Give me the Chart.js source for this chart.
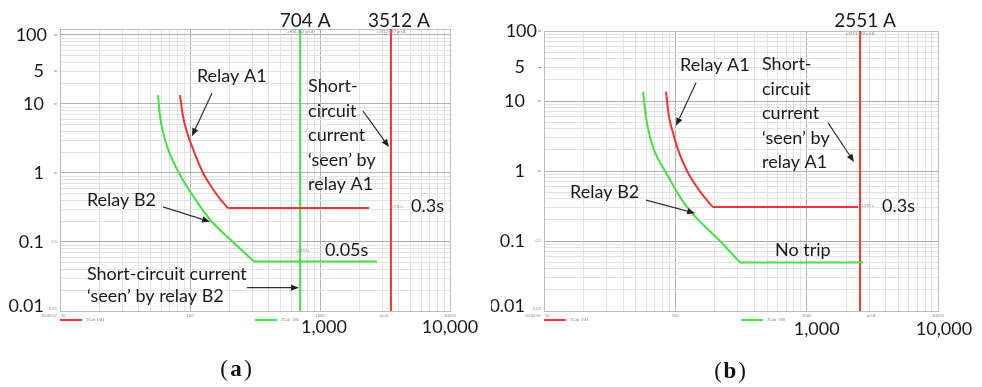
<!DOCTYPE html>
<html>
<head>
<meta charset="utf-8">
<script src="https://cdn.jsdelivr.net/npm/chart.js@4.4.0/dist/chart.umd.min.js"></script>
<style>
  html, body { margin: 0; padding: 0; background: #fff; }
  #wrap { position: relative; width: 982px; height: 387px; }
  .panel { position: absolute; top: 0; width: 491px; height: 387px; }
</style>
</head>
<body>
<div id="wrap">
  <div class="panel" style="left:0"><canvas id="chartA" width="491" height="387"></canvas></div>
  <div class="panel" style="left:491px"><canvas id="chartB" width="491" height="387"></canvas></div>
</div>
<script>
// ---- data (current in A, time in s) ----
const relayA1_a_I = [83.8, 88.3, 94.8, 105.5, 126, 150, 170, 196, 2381];
const relayA1_a_t = [13.4, 6.65, 3.91, 2.22, 1, 0.587, 0.421, 0.31, 0.31];
const relayB2_a_I = [56.7, 58.8, 62, 67.7, 82.3, 109.3, 145.1, 214, 310, 2742];
const relayB2_a_t = [13.4, 6.65, 3.91, 2.22, 1, 0.421, 0.203, 0.1, 0.052, 0.052];
const scCurrent_a = [704, 3512];   // seen by B2, seen by A1

const relayA1_b_I = [84.9, 89.5, 96, 104.9, 122.8, 151.5, 174, 193.6, 2460];
const relayA1_b_t = [13.6, 5.95, 3.51, 2.0, 1, 0.534, 0.384, 0.305, 0.305];
const relayB2_b_I = [56.8, 59.8, 63.0, 68.8, 83.5, 112.5, 134.1, 218.9, 311, 2692];
const relayB2_b_t = [13.6, 5.95, 3.51, 2.0, 1, 0.384, 0.25, 0.1, 0.0495, 0.0495];
const scCurrent_b = [2551];        // seen by A1

// index where the smooth inverse-time part ends and straight segments begin
const relayA1_bend = 7;
const relayB2_bend = 7;

const xDecades = [10, 100, 1000, 10000];
const yDecades = [0.01, 0.1, 1, 10, 100];
const yTickValues = [100, 30, 10, 1, 0.1, 0.01];
const yTickLabels = ['100', '5', '10', '1', '0.1', '0.01'];
const xTickValues = [1000, 10000];
const xTickLabels = ['1,000', '10,000'];

const RED = '#ee3535';
const GREEN = '#44e044';
const FONT = 'Lato, "Open Sans", sans-serif';

function logGrid(decades) {
  const vals = [];
  decades.forEach((d, i) => {
    if (i === decades.length - 1) { vals.push(d); return; }
    for (let k = 1; k < 10; k++) vals.push(+(d * k).toPrecision(3));
  });
  return vals;
}
const isDecade = v => Math.abs(Math.log10(v) - Math.round(Math.log10(v))) < 1e-6;
const gridColor = c => (c.tick && isDecade(c.tick.value)) ? '#b0b0b0' : '#e3e3e3';

function drawArrow(ctx, x1, y1, x2, y2) {
  const ang = Math.atan2(y2 - y1, x2 - x1), L = 8, W = 3.2;
  const bx = x2 - L * Math.cos(ang), by = y2 - L * Math.sin(ang);
  ctx.beginPath(); ctx.moveTo(x1, y1); ctx.lineTo(bx, by); ctx.stroke();
  ctx.beginPath();
  ctx.moveTo(x2, y2);
  ctx.lineTo(bx + W * Math.sin(ang), by - W * Math.cos(ang));
  ctx.lineTo(bx - W * Math.sin(ang), by + W * Math.cos(ang));
  ctx.closePath(); ctx.fill();
}

function decor(p) {
  return {
    id: 'decor',
    beforeDatasetsDraw(chart) {
      const a = chart.chartArea, ctx = chart.ctx;
      ctx.save();
      ctx.strokeStyle = '#bdbdbd'; ctx.lineWidth = 1;
      ctx.strokeRect(a.left + 0.5, a.top + 0.5, a.right - a.left, a.bottom - a.top);
      ctx.restore();
    },
    afterDraw(chart) {
      const ctx = chart.ctx, a = chart.chartArea;
      const sx = chart.scales.x, sy = chart.scales.y;
      const X = v => sx.getPixelForValue(v), Y = v => sy.getPixelForValue(v);
      ctx.save();

      // big y labels
      ctx.fillStyle = '#1a1a1a';
      ctx.font = '18px ' + FONT;
      ctx.textAlign = 'right'; ctx.textBaseline = 'middle';
      yTickValues.forEach((v, i) => {
        let y = Y(v);
        if (v === 0.01) y -= 5;
        const xr = a.left - p.yLabelGap + (v === 100 ? p.topLabelShift : 0);
        ctx.fillText(yTickLabels[i], xr, y);
      });
      // big x labels
      ctx.textAlign = 'center';
      xTickValues.forEach((v, i) => ctx.fillText(xTickLabels[i], X(v) + p.xLabelDx[i], a.bottom + p.xLabelDy));

      // tiny labels of the original software
      ctx.fillStyle = '#8a8a8a'; ctx.strokeStyle = '#c8c8c8';
      ctx.font = '4px ' + FONT;
      ctx.textAlign = 'center'; ctx.textBaseline = 'middle';
      xDecades.forEach(v => ctx.fillText(String(v), X(v) + (v === 10 ? 3 : 0), a.bottom + 5));
      ctx.fillText('pri.A', X(3100), a.bottom + 5);
      ctx.textAlign = 'right';
      ctx.fillText('20.00 kV', a.left - 3, a.bottom + 5);
      ctx.fillText('0.01', a.left - 3, a.bottom - 2);
      ctx.fillText('0.1', a.left - 3, Y(0.1));
      yTickValues.forEach(v => { if (v >= 1) { ctx.fillRect(a.left - 6, Y(v) - 0.5, 3, 1); } });
      ctx.textAlign = 'center';
      p.sc.forEach(s => ctx.fillText(s.tiny, X(s.I), a.top + 3));
      p.tinyInside.forEach(s => ctx.fillText(s.text, X(s.I), Y(s.t)));

      // legend samples
      ctx.lineWidth = 2;
      const lx = [a.left, (a.left + a.right) / 2];
      p.legend.forEach((l, i) => {
        ctx.strokeStyle = l.color;
        ctx.beginPath(); ctx.moveTo(lx[i], a.bottom + 9); ctx.lineTo(lx[i] + 22, a.bottom + 9); ctx.stroke();
        ctx.textAlign = 'left';
        ctx.fillText(l.text, lx[i] + 26, a.bottom + 9);
      });

      // short-circuit current labels above the plot
      ctx.fillStyle = '#1a1a1a';
      ctx.font = '19px ' + FONT;
      ctx.textAlign = 'center'; ctx.textBaseline = 'middle';
      p.sc.forEach(s => ctx.fillText(s.label, X(s.I) + s.dx, 21));

      // annotation text
      ctx.font = '18px ' + FONT;
      ctx.textAlign = 'left';
      p.texts.forEach(tx => {
        tx.lines.forEach((line, k) => ctx.fillText(line, X(tx.I), Y(tx.t) + k * tx.lh));
      });

      // arrows
      ctx.strokeStyle = '#333'; ctx.fillStyle = '#222'; ctx.lineWidth = 1.2;
      p.arrows.forEach(ar => drawArrow(ctx, X(ar[0]), Y(ar[1]), X(ar[2]), Y(ar[3])));

      // caption
      ctx.fillStyle = '#111';
      ctx.textAlign = 'center';
      const cap = p.caption;
      ctx.font = '23px "Liberation Serif", serif';
      ctx.fillText('(', cap.x - 12, cap.y);
      ctx.fillText(')', cap.x + 12, cap.y);
      ctx.font = 'bold 23px "Liberation Serif", serif';
      ctx.fillText(cap.letter, cap.x, cap.y);
      ctx.restore();
    }
  };
}

function makeChart(id, p) {
  const base = { showLine: true, pointRadius: 0, borderWidth: 2, fill: false, tension: 0 };
  const pts = (I, t) => I.map((v, i) => ({ x: v, y: t[i] }));
  const a1 = pts(p.a1I, p.a1t), b2 = pts(p.b2I, p.b2t);
  const datasets = [
    Object.assign({}, base, { label: 'Relay A1', borderColor: RED, cubicInterpolationMode: 'monotone', data: a1.slice(0, p.a1Bend + 1) }),
    Object.assign({}, base, { label: 'Relay A1 min', borderColor: RED, data: a1.slice(p.a1Bend) }),
    Object.assign({}, base, { label: 'Relay B2', borderColor: GREEN, cubicInterpolationMode: 'monotone', data: b2.slice(0, p.b2Bend + 1) }),
    Object.assign({}, base, { label: 'Relay B2 min', borderColor: GREEN, data: b2.slice(p.b2Bend) })
  ];
  p.sc.forEach(s => datasets.push(Object.assign({}, base, {
    label: s.label, borderColor: s.color, data: [{ x: s.I, y: 0.01 }, { x: s.I, y: p.yMax }]
  })));
  const xGrid = logGrid(xDecades), yGrid = logGrid(yDecades);
  return new Chart(document.getElementById(id), {
    type: 'scatter',
    data: { datasets },
    options: {
      responsive: false, animation: false, events: [],
      layout: { padding: p.padding },
      plugins: { legend: { display: false }, tooltip: { enabled: false } },
      scales: {
        x: {
          type: 'logarithmic', min: 10, max: 10000,
          afterBuildTicks: s => { s.ticks = xGrid.map(v => ({ value: v })); },
          ticks: { display: false },
          grid: { color: gridColor, drawTicks: false },
          border: { display: false }
        },
        y: {
          type: 'logarithmic', min: 0.01, max: p.yMax,
          afterBuildTicks: s => { s.ticks = yGrid.map(v => ({ value: v })); },
          ticks: { display: false },
          grid: { color: gridColor, drawTicks: false },
          border: { display: false }
        }
      }
    },
    plugins: [decor(p)]
  });
}

const q = '\u2018seen\u2019 by';

makeChart('chartA', {
  padding: { left: 60, right: 41, top: 29, bottom: 76 },
  yMax: 122, yLabelGap: 16, topLabelShift: 3,
  xLabelDx: [4, 0], xLabelDy: 16,
  a1I: relayA1_a_I, a1t: relayA1_a_t, b2I: relayB2_a_I, b2t: relayB2_a_t,
  a1Bend: relayA1_bend, b2Bend: relayB2_bend,
  sc: [
    { I: scCurrent_a[0], color: GREEN, label: scCurrent_a[0] + ' A', dx: 5, tiny: '=704.133 pri.A' },
    { I: scCurrent_a[1], color: RED, label: scCurrent_a[1] + ' A', dx: 8, tiny: '=3512.847 pri.A' }
  ],
  legend: [{ color: RED, text: '1Cab_D41' }, { color: GREEN, text: '2Cab_180' }],
  tinyInside: [{ text: '0.310 s', I: 3900, t: 0.32 }, { text: '0.070 s', I: 740, t: 0.075 }],
  texts: [
    { I: 113, t: 25.2, lh: 0, lines: ['Relay A1'] },
    { I: 809, t: 18.0, lh: 24.5, lines: ['Short-', 'circuit', 'current', q, 'relay A1'] },
    { I: 16.1, t: 0.408, lh: 0, lines: ['Relay B2'] },
    { I: 16.1, t: 0.0337, lh: 22, lines: ['Short-circuit current', q + ' relay B2'] },
    { I: 5012, t: 0.334, lh: 0, lines: ['0.3s'] },
    { I: 1092, t: 0.0773, lh: 0, lines: ['0.05s'] }
  ],
  arrows: [
    [147.5, 14.3, 103.5, 3.42],
    [2143, 7.86, 3396, 2.37],
    [62, 0.323, 142.6, 0.196],
    [274, 0.0218, 689, 0.0218]
  ],
  caption: { letter: 'a', x: 236, y: 370 }
});

makeChart('chartB', {
  padding: { left: 53, right: 44, top: 31, bottom: 76 },
  yMax: 100, yLabelGap: 19, topLabelShift: 12,
  xLabelDx: [10, 6], xLabelDy: 18,
  a1I: relayA1_b_I, a1t: relayA1_b_t, b2I: relayB2_b_I, b2t: relayB2_b_t,
  a1Bend: relayA1_bend, b2Bend: relayB2_bend,
  sc: [
    { I: scCurrent_b[0], color: RED, label: scCurrent_b[0] + ' A', dx: 5, tiny: '=2551.260 pri.A' }
  ],
  legend: [{ color: RED, text: '1Cab_D41' }, { color: GREEN, text: '2Cab_180' }],
  tinyInside: [{ text: '0.310 s', I: 2884, t: 0.315 }],
  texts: [
    { I: 108.6, t: 32.1, lh: 0, lines: ['Relay A1'] },
    { I: 457, t: 33.2, lh: 24.5, lines: ['Short-', 'circuit', 'current', q, 'relay A1'] },
    { I: 15.8, t: 0.50, lh: 0, lines: ['Relay B2'] },
    { I: 3750, t: 0.315, lh: 0, lines: ['0.3s'] },
    { I: 574, t: 0.0736, lh: 0, lines: ['No trip'] }
  ],
  arrows: [
    [143.9, 18.3, 101.2, 4.42],
    [1455, 4.88, 2296, 1.35],
    [59.8, 0.384, 141.4, 0.25]
  ],
  caption: { letter: 'b', x: 730 - 491, y: 372 }
});
</script>
</body>
</html>
